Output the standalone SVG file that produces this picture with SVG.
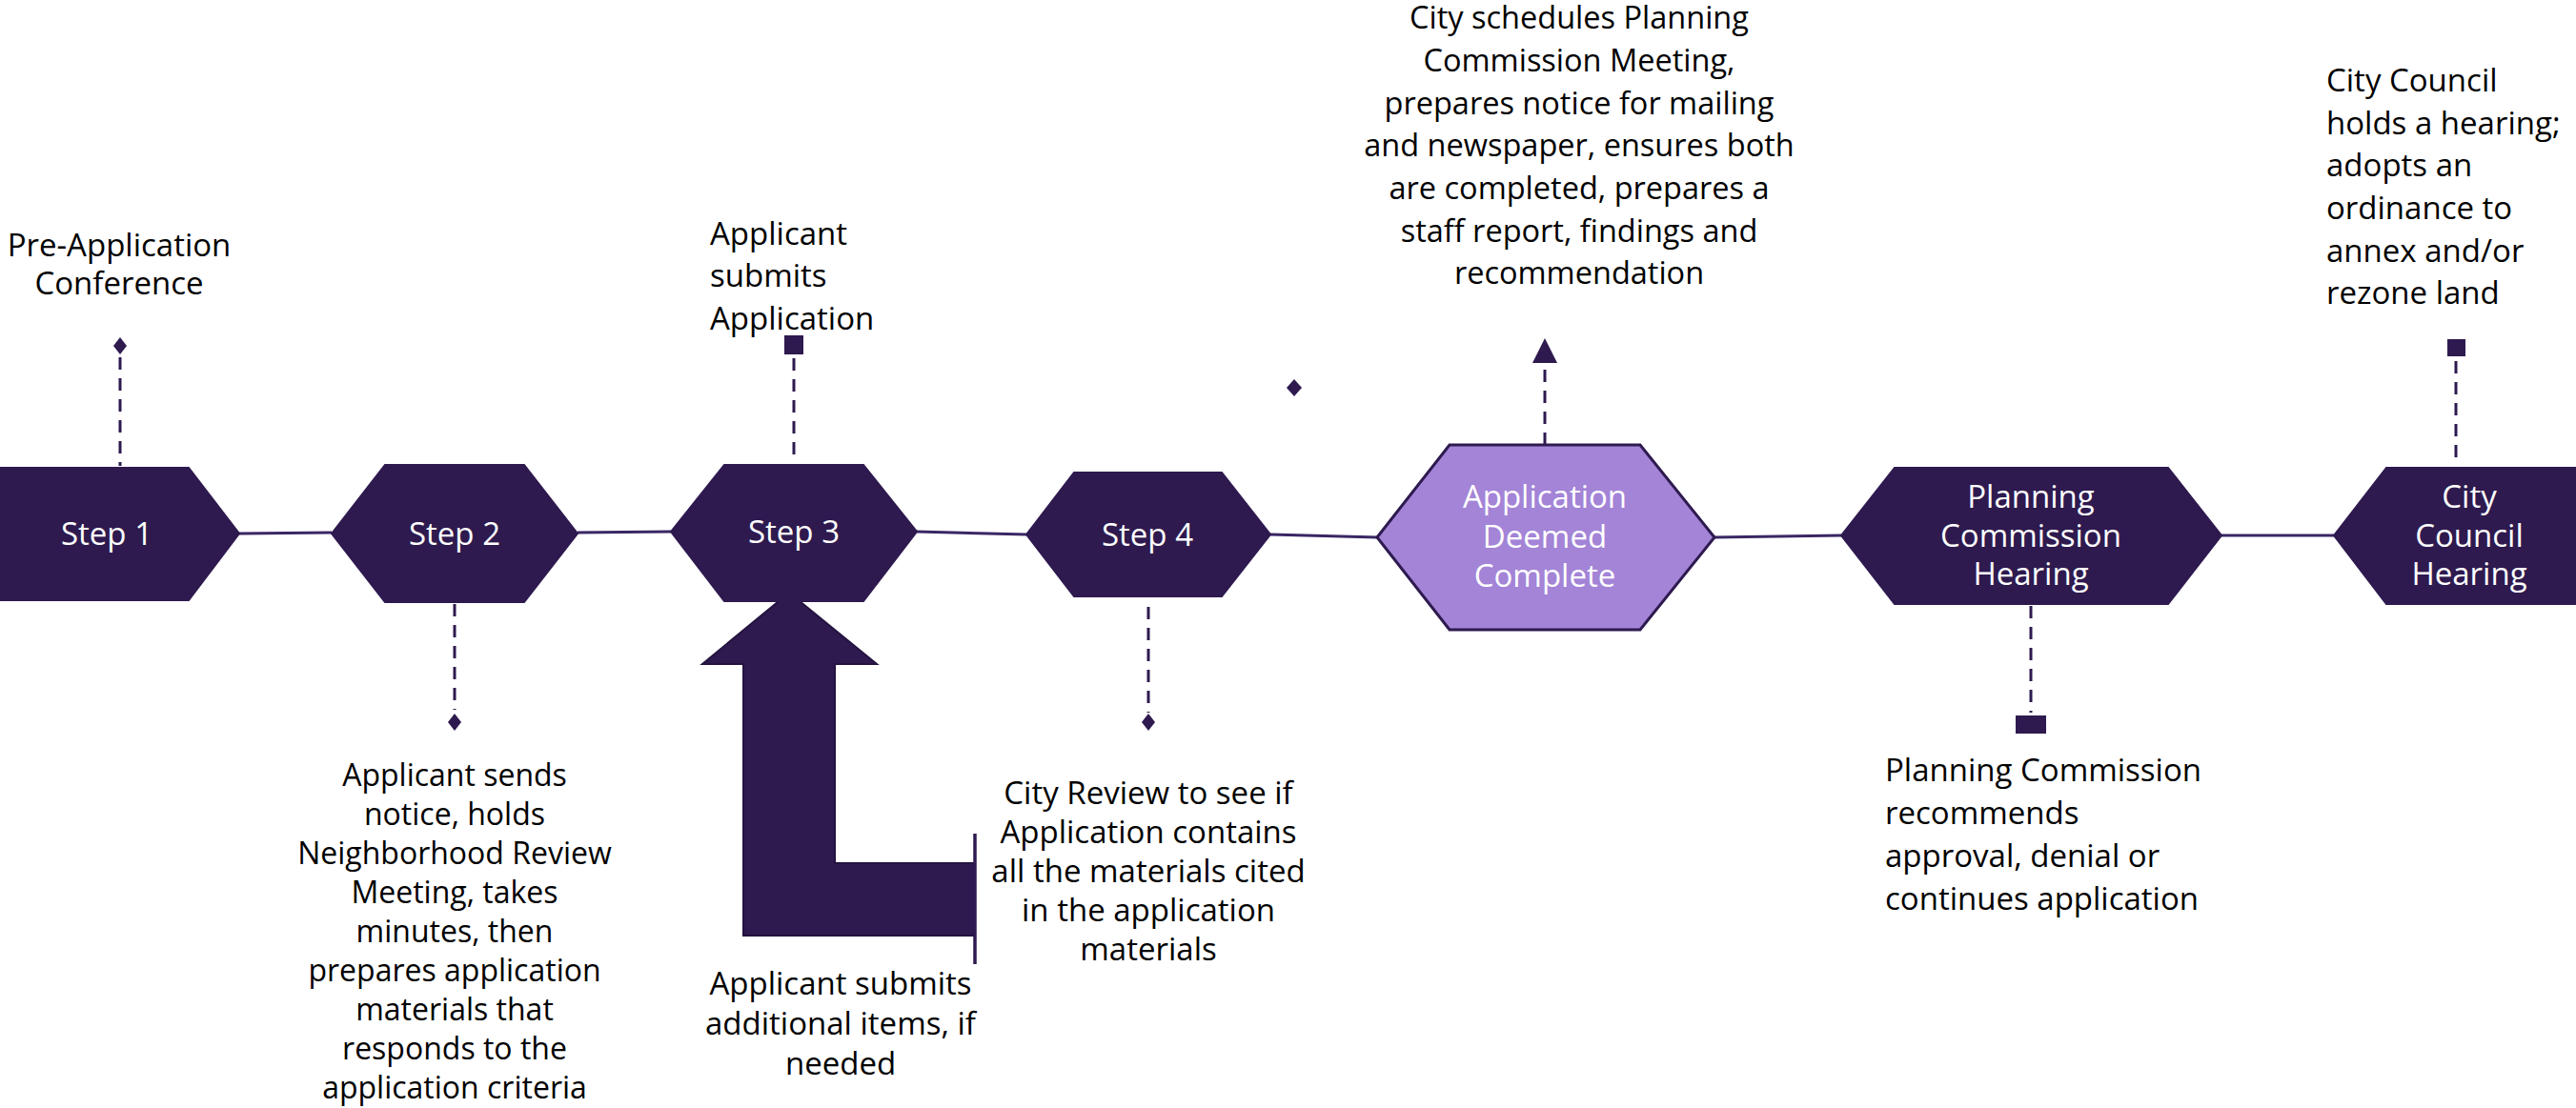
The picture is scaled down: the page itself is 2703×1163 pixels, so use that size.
<svg xmlns="http://www.w3.org/2000/svg" width="2703" height="1163" viewBox="0 0 2703 1163">
<style>
.hex{fill:#2e1a4f;stroke:#2e1a4f;stroke-width:2}
.hexl{fill:#a384d7;stroke:#2e1a4f;stroke-width:3}
.lbl{font-family:"Open Sans",sans-serif;font-size:33px;fill:#ffffff;text-anchor:middle}
.note{font-family:"Open Sans",sans-serif;font-size:33px;fill:#000000}
.mid{text-anchor:middle}
.conn{stroke:#3a2764;stroke-width:3;fill:none}
.dash{stroke:#2e1a4f;stroke-width:3;stroke-dasharray:13 9;fill:none}
.mk{fill:#2e1a4f}
</style>
<rect width="2703" height="1163" fill="#ffffff"/>
<g id="connectors">
<line class="conn" x1="251" y1="560" x2="348" y2="559"/>
<line class="conn" x1="606" y1="559" x2="704" y2="558"/>
<line class="conn" x1="962" y1="558" x2="1077" y2="561"/>
<line class="conn" x1="1333" y1="561" x2="1445" y2="564"/>
<line class="conn" x1="1799" y1="564" x2="1932" y2="562"/>
<line class="conn" x1="2331" y1="562" x2="2449" y2="562"/>
<line class="dash" x1="126" y1="375" x2="126" y2="489"/>
<line class="dash" x1="477" y1="634" x2="477" y2="745"/>
<line class="dash" x1="833" y1="376" x2="833" y2="486"/>
<line class="dash" x1="1205" y1="637" x2="1205" y2="748"/>
<line class="dash" x1="1621" y1="511" x2="1621" y2="378"/>
<line class="dash" x1="2131" y1="636" x2="2131" y2="748"/>
<line class="dash" x1="2577" y1="379" x2="2577" y2="489"/>
<polygon class="mk" points="126,354 133,363 126,372 119,363"/>
<polygon class="mk" points="477,749 484,758 477,767 470,758"/>
<polygon class="mk" points="1205,749 1212,758 1205,767 1198,758"/>
<polygon class="mk" points="1358,398 1366,407 1358,416 1350,407"/>
<rect class="mk" x="823" y="352" width="20" height="20"/>
<rect class="mk" x="2568" y="356" width="19" height="18"/>
<rect class="mk" x="2115" y="751" width="32" height="19"/>
<polygon class="mk" points="1621,355 1634,381 1608,381"/>
<polygon fill="#2e1a4f" stroke="#24133f" stroke-width="2" points="828,622 920,697 876,697 876,906 1023,906 1023,982 780,982 780,697 737,697"/>
<line x1="1023" y1="875" x2="1023" y2="1012" stroke="#2e1a4f" stroke-width="3.5"/>
</g>
<g id="step1">
<polygon class="hex" points="0,491 198,491 251,560 198,630 0,630"/>
<text class="lbl" x="112" y="572">Step 1</text>
</g>
<g id="step2">
<polygon class="hex" points="348,560 404,488 550,488 606,560 550,632 404,632"/>
<text class="lbl" x="477" y="572">Step 2</text>
</g>
<g id="step3">
<polygon class="hex" points="704,558 760,488 906,488 962,558 906,631 760,631"/>
<text class="lbl" x="833" y="570">Step 3</text>
</g>
<g id="step4">
<polygon class="hex" points="1077,561 1127,496 1282,496 1333,561 1282,626 1127,626"/>
<text class="lbl" x="1204" y="573">Step 4</text>
</g>
<g id="complete">
<polygon class="hexl" points="1445,564 1521,467 1721,467 1799,564 1721,661 1521,661"/>
<text class="lbl" x="1621" y="533">Application</text>
<text class="lbl" x="1621" y="575">Deemed</text>
<text class="lbl" x="1621" y="616">Complete</text>
</g>
<g id="pc-hearing">
<polygon class="hex" points="1932,562 1988,491 2275,491 2331,562 2275,634 1988,634"/>
<text class="lbl" x="2131" y="533">Planning</text>
<text class="lbl" x="2131" y="574">Commission</text>
<text class="lbl" x="2131" y="614">Hearing</text>
</g>
<g id="cc-hearing">
<polygon class="hex" points="2449,562 2504,491 2760,491 2760,634 2504,634"/>
<text class="lbl" x="2591" y="533">City</text>
<text class="lbl" x="2591" y="574">Council</text>
<text class="lbl" x="2591" y="614">Hearing</text>
</g>
<g id="note-preapp">
<text class="note mid" x="125" y="269">Pre-Application</text>
<text class="note mid" x="125" y="309">Conference</text>
</g>
<g id="note-step2" style="font-size:32px">
<text class="note mid" x="477" y="825" style="font-size:32px">Applicant sends</text>
<text class="note mid" x="477" y="866" style="font-size:32px">notice, holds</text>
<text class="note mid" x="477" y="907" style="font-size:32px">Neighborhood Review</text>
<text class="note mid" x="477" y="948" style="font-size:32px">Meeting, takes</text>
<text class="note mid" x="477" y="989" style="font-size:32px">minutes, then</text>
<text class="note mid" x="477" y="1030" style="font-size:32px">prepares application</text>
<text class="note mid" x="477" y="1071" style="font-size:32px">materials that</text>
<text class="note mid" x="477" y="1112" style="font-size:32px">responds to the</text>
<text class="note mid" x="477" y="1153" style="font-size:32px">application criteria</text>
</g>
<g id="note-step3">
<text class="note" x="745" y="257">Applicant</text>
<text class="note" x="745" y="301">submits</text>
<text class="note" x="745" y="346">Application</text>
</g>
<g id="note-additional">
<text class="note mid" x="882" y="1044">Applicant submits</text>
<text class="note mid" x="882" y="1086">additional items, if</text>
<text class="note mid" x="882" y="1128">needed</text>
</g>
<g id="note-step4">
<text class="note mid" x="1205" y="844">City Review to see if</text>
<text class="note mid" x="1205" y="885">Application contains</text>
<text class="note mid" x="1205" y="926">all the materials cited</text>
<text class="note mid" x="1205" y="967">in the application</text>
<text class="note mid" x="1205" y="1008">materials</text>
</g>
<g id="note-complete">
<text class="note mid" x="1657" y="30" style="font-size:32.5px">City schedules Planning</text>
<text class="note mid" x="1657" y="75" style="font-size:32.5px">Commission Meeting,</text>
<text class="note mid" x="1657" y="120" style="font-size:32.5px">prepares notice for mailing</text>
<text class="note mid" x="1657" y="164" style="font-size:32.5px">and newspaper, ensures both</text>
<text class="note mid" x="1657" y="209" style="font-size:32.5px">are completed, prepares a</text>
<text class="note mid" x="1657" y="254" style="font-size:32.5px">staff report, findings and</text>
<text class="note mid" x="1657" y="298" style="font-size:32.5px">recommendation</text>
</g>
<g id="note-pc">
<text class="note" x="1978" y="820">Planning Commission</text>
<text class="note" x="1978" y="865">recommends</text>
<text class="note" x="1978" y="910">approval, denial or</text>
<text class="note" x="1978" y="955">continues application</text>
</g>
<g id="note-cc">
<text class="note" x="2441" y="96">City Council</text>
<text class="note" x="2441" y="141">holds a hearing;</text>
<text class="note" x="2441" y="185">adopts an</text>
<text class="note" x="2441" y="230">ordinance to</text>
<text class="note" x="2441" y="275">annex and/or</text>
<text class="note" x="2441" y="319">rezone land</text>
</g>
</svg>
